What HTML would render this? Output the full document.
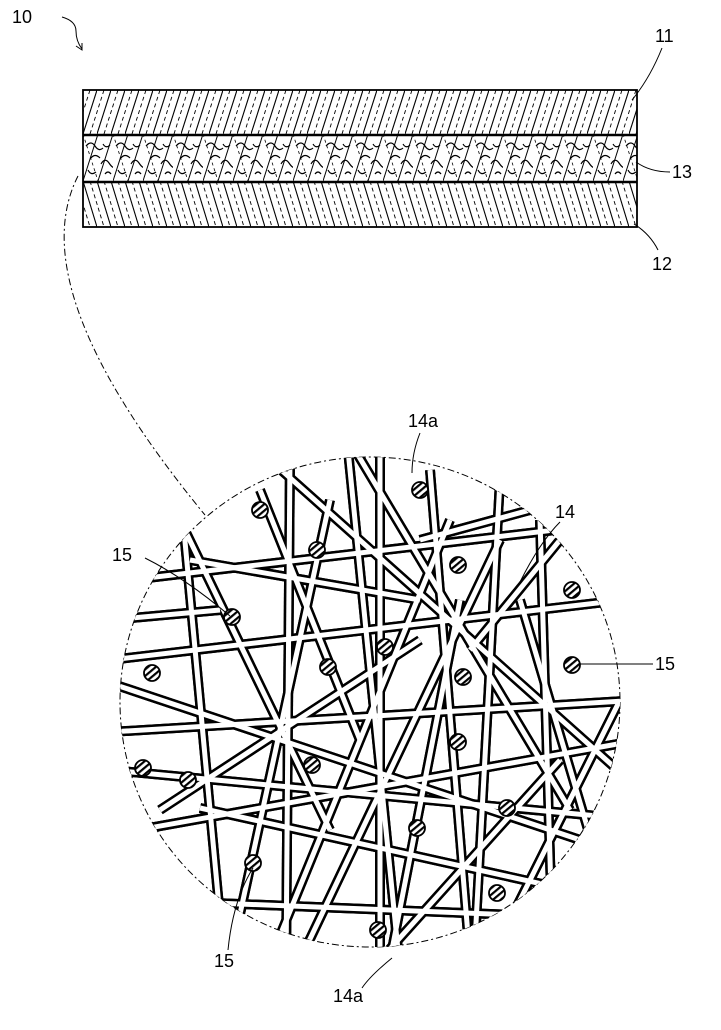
<!DOCTYPE html>
<html><head><meta charset="utf-8"><style>
html,body{margin:0;padding:0;background:#fff}
svg{display:block}
text{font-family:"Liberation Sans",sans-serif;font-size:18px;fill:#000}
</style></head><body>
<svg width="721" height="1030" viewBox="0 0 721 1030" xmlns="http://www.w3.org/2000/svg">
<defs>
<pattern id="h11" width="14" height="44" patternUnits="userSpaceOnUse" patternTransform="translate(83,90)">
<line x1="0" y1="44" x2="14" y2="0" stroke="#000" stroke-width="1.1"/>
<line x1="-7" y1="44" x2="7" y2="0" stroke="#000" stroke-width="0.9" stroke-dasharray="4,3"/>
<line x1="7" y1="44" x2="21" y2="0" stroke="#000" stroke-width="0.9" stroke-dasharray="4,3"/>
</pattern>
<pattern id="h12" width="14" height="46" patternUnits="userSpaceOnUse" patternTransform="translate(83,181)">
<line x1="0" y1="0" x2="14" y2="46" stroke="#000" stroke-width="1.1"/>
<line x1="-7" y1="0" x2="7" y2="46" stroke="#000" stroke-width="0.9" stroke-dasharray="4,3"/>
<line x1="7" y1="0" x2="21" y2="46" stroke="#000" stroke-width="0.9" stroke-dasharray="4,3"/>
</pattern>
<pattern id="h13" width="30" height="47" patternUnits="userSpaceOnUse" patternTransform="translate(83,134)">
<line x1="0" y1="47" x2="15" y2="0" stroke="#000" stroke-width="1"/>
<line x1="15" y1="47" x2="30" y2="0" stroke="#000" stroke-width="1"/>
<line x1="0" y1="0" x2="15" y2="47" stroke="#000" stroke-width="0.8" stroke-dasharray="3,3"/>
<path d="M3 12 q5 -6 9 0 t8 2 M18 30 q4 -7 8 -1 t6 4 M5 36 q3 6 8 2 M20 10 q3 5 7 1 M8 24 q4 -5 9 0 M22 40 q3 -4 6 0" fill="none" stroke="#000" stroke-width="1.2"/>
</pattern>
<pattern id="dh" width="5" height="5" patternUnits="userSpaceOnUse" patternTransform="rotate(-40)">
<rect width="5" height="5" fill="#fff"/><rect width="5" height="2.2" fill="#000"/>
</pattern>
<clipPath id="cc"><ellipse cx="370" cy="702" rx="250" ry="245"/></clipPath>
</defs>

<text x="12" y="23">10</text>
<path d="M62 17 q14 4 14 14 q0 10 6 18" fill="none" stroke="#000" stroke-width="1"/>
<path d="M76 46 l6 4 l0 -7" fill="none" stroke="#000" stroke-width="1"/>

<rect x="83" y="90" width="554" height="44" fill="url(#h11)"/>
<rect x="83" y="134" width="554" height="47" fill="url(#h13)"/>
<rect x="83" y="181" width="554" height="46" fill="url(#h12)"/>
<rect x="83" y="90" width="554" height="137" fill="none" stroke="#000" stroke-width="1.8"/>
<line x1="83" y1="135" x2="637" y2="135" stroke="#000" stroke-width="2.6"/>
<line x1="83" y1="182" x2="637" y2="182" stroke="#000" stroke-width="2.6"/>

<text x="655" y="42">11</text>
<path d="M662 48 q-12 30 -30 52" fill="none" stroke="#000" stroke-width="1"/>
<text x="672" y="178">13</text>
<path d="M670 172 q-20 0 -34 -10" fill="none" stroke="#000" stroke-width="1"/>
<text x="652" y="270">12</text>
<path d="M658 250 q-8 -16 -24 -26" fill="none" stroke="#000" stroke-width="1"/>

<path d="M78 176 Q20 290 205 515" fill="none" stroke="#000" stroke-width="1" stroke-dasharray="7,3,2,3"/>

<ellipse cx="370" cy="702" rx="250" ry="245" fill="#fff" stroke="#000" stroke-width="1" stroke-dasharray="7,3,2,3"/>

<g clip-path="url(#cc)">
<g id="fibs">
<line x1="270" y1="460" x2="640" y2="790"/>
<line x1="355" y1="450" x2="570" y2="810"/>
<line x1="290" y1="455" x2="286" y2="970"/>
<line x1="348" y1="450" x2="400" y2="970"/>
<line x1="500" y1="480" x2="474" y2="960"/>
<line x1="540" y1="520" x2="553" y2="960"/>
<line x1="183" y1="520" x2="224" y2="960"/>
<line x1="110" y1="660" x2="640" y2="598"/>
<line x1="110" y1="732" x2="640" y2="700"/>
<line x1="200" y1="808" x2="560" y2="888"/>
<line x1="110" y1="683" x2="640" y2="860"/>
<line x1="110" y1="835" x2="640" y2="740"/>
<line x1="130" y1="580" x2="640" y2="520"/>
<line x1="180" y1="520" x2="330" y2="830"/>
<line x1="260" y1="490" x2="360" y2="740"/>
<line x1="230" y1="960" x2="330" y2="500"/>
<line x1="270" y1="960" x2="450" y2="520"/>
<line x1="300" y1="960" x2="500" y2="540"/>
<line x1="390" y1="960" x2="460" y2="600"/>
<line x1="430" y1="470" x2="470" y2="960"/>
<line x1="160" y1="810" x2="420" y2="640"/>
<line x1="110" y1="770" x2="640" y2="820"/>
<line x1="190" y1="560" x2="420" y2="600"/>
<line x1="380" y1="440" x2="380" y2="960"/>
<line x1="560" y1="760" x2="380" y2="960"/>
<line x1="620" y1="700" x2="490" y2="960"/>
<line x1="420" y1="540" x2="640" y2="480"/>
<line x1="140" y1="900" x2="640" y2="920"/>
<line x1="520" y1="600" x2="600" y2="870"/>
<line x1="110" y1="620" x2="220" y2="610"/>
<line x1="560" y1="540" x2="470" y2="650"/>
</g>
</g>
<style>
#fibs line{stroke:#000;stroke-width:10}
</style>
<g clip-path="url(#cc)">
<use href="#fibs" style="--x:1"/>
</g>
<g clip-path="url(#cc)" stroke="#fff" stroke-width="5">
<line x1="270" y1="460" x2="640" y2="790"/>
<line x1="355" y1="450" x2="570" y2="810"/>
<line x1="290" y1="455" x2="286" y2="970"/>
<line x1="348" y1="450" x2="400" y2="970"/>
<line x1="500" y1="480" x2="474" y2="960"/>
<line x1="540" y1="520" x2="553" y2="960"/>
<line x1="183" y1="520" x2="224" y2="960"/>
<line x1="110" y1="660" x2="640" y2="598"/>
<line x1="110" y1="732" x2="640" y2="700"/>
<line x1="200" y1="808" x2="560" y2="888"/>
<line x1="110" y1="683" x2="640" y2="860"/>
<line x1="110" y1="835" x2="640" y2="740"/>
<line x1="130" y1="580" x2="640" y2="520"/>
<line x1="180" y1="520" x2="330" y2="830"/>
<line x1="260" y1="490" x2="360" y2="740"/>
<line x1="230" y1="960" x2="330" y2="500"/>
<line x1="270" y1="960" x2="450" y2="520"/>
<line x1="300" y1="960" x2="500" y2="540"/>
<line x1="390" y1="960" x2="460" y2="600"/>
<line x1="430" y1="470" x2="470" y2="960"/>
<line x1="160" y1="810" x2="420" y2="640"/>
<line x1="110" y1="770" x2="640" y2="820"/>
<line x1="190" y1="560" x2="420" y2="600"/>
<line x1="380" y1="440" x2="380" y2="960"/>
<line x1="560" y1="760" x2="380" y2="960"/>
<line x1="620" y1="700" x2="490" y2="960"/>
<line x1="420" y1="540" x2="640" y2="480"/>
<line x1="140" y1="900" x2="640" y2="920"/>
<line x1="520" y1="600" x2="600" y2="870"/>
<line x1="110" y1="620" x2="220" y2="610"/>
<line x1="560" y1="540" x2="470" y2="650"/>
</g>
<g fill="url(#dh)" stroke="#000" stroke-width="1.8">
<circle cx="420" cy="490" r="8"/><circle cx="260" cy="510" r="8"/><circle cx="317" cy="550" r="8"/>
<circle cx="458" cy="565" r="8"/><circle cx="572" cy="590" r="8"/><circle cx="232" cy="617" r="8"/>
<circle cx="385" cy="647" r="8"/><circle cx="328" cy="667" r="8"/><circle cx="463" cy="677" r="8"/>
<circle cx="572" cy="665" r="8"/><circle cx="152" cy="673" r="8"/><circle cx="458" cy="742" r="8"/>
<circle cx="312" cy="765" r="8"/><circle cx="143" cy="768" r="8"/><circle cx="188" cy="780" r="8"/>
<circle cx="507" cy="808" r="8"/><circle cx="417" cy="828" r="8"/><circle cx="253" cy="863" r="8"/>
<circle cx="497" cy="893" r="8"/><circle cx="378" cy="930" r="8"/>
</g>

<text x="408" y="427">14a</text>
<path d="M420 433 q-8 20 -8 40" fill="none" stroke="#000" stroke-width="1"/>
<text x="555" y="518">14</text>
<path d="M560 522 q-20 20 -40 60" fill="none" stroke="#000" stroke-width="1"/>
<text x="112" y="561">15</text>
<path d="M145 558 q40 20 85 58" fill="none" stroke="#000" stroke-width="1"/>
<text x="655" y="670">15</text>
<path d="M653 664 q-40 0 -74 0" fill="none" stroke="#000" stroke-width="1"/>
<text x="214" y="967">15</text>
<path d="M228 950 q5 -50 25 -82" fill="none" stroke="#000" stroke-width="1"/>
<text x="333" y="1002">14a</text>
<path d="M362 988 q8 -12 30 -30" fill="none" stroke="#000" stroke-width="1"/>
</svg>
</body></html>
